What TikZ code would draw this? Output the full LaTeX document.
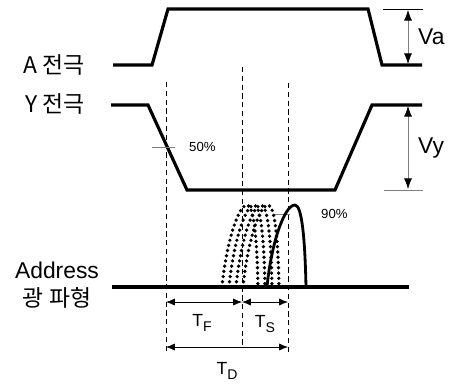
\documentclass[tikz,border=0pt]{standalone}
\usepackage{fontspec}
\setmainfont{Liberation Sans}
\newfontfamily\kr{Noto Sans CJK KR}
\usetikzlibrary{arrows.meta}
\tikzset{
  wave/.style={line width=1.8pt, line join=miter},
  guide/.style={thin, dash pattern=on 3pt off 2pt},
  mark50/.style={gray, thin},
  dimarrow/.style={thin, {Latex[length=5pt,width=4pt]}-{Latex[length=5pt,width=4pt]}},
  vdim/.style={gray, thin, {Latex[length=6pt,width=4.5pt,black]}-{Latex[length=6pt,width=4.5pt,black]}},
  dotpulse/.style={line width=2.1pt, line cap=round, dash pattern=on 0pt off 3pt},
  biglbl/.style={font=\fontsize{13}{15}\selectfont},
  smalllbl/.style={font=\fontsize{7.5}{9}\selectfont},
  tlbl/.style={font=\fontsize{10}{12}\selectfont}
}
\newcommand{\tsub}[1]{T\raisebox{-0.45ex}{\fontsize{8}{9}\selectfont #1}}
\begin{document}
\begin{tikzpicture}[x=0.02cm, y=-0.02cm]
    \useasboundingbox (0,0) rectangle (455,383);

    % Golfvormen van de elektroden
    \draw[wave] (113,65) -- (152,65) -- (168,9) -- (368,9) -- (382,65) -- (422,65);
    \draw[wave] (111,105) -- (148,105) -- (187,190) -- (335,190) -- (372,105) -- (422,105);
    \draw[wave] (112,287) -- (409,287);

    % Labels links
    \node[biglbl, anchor=east] (lblA) at (91,65) {\kr A 전극};
    \node[biglbl, anchor=east] (lblY) at (91,104) {\kr Y 전극};
    \node[biglbl] (lblAddr) at (57,270) {Address};
    \node[biglbl] (lblOpt) at (57,298) {\kr 광 파형};

    % Hulplijnen (gestreept)
    \draw[guide] (166,82) -- (166,353);
    \draw[guide] (242,67) -- (242,347);
    \draw[guide] (288,83) -- (288,355);

    % 50% en 90% markeringen
    \draw[mark50] (152,147) -- (175,147);
    \node[smalllbl, anchor=west] (lbl50) at (183,147) {50\%};
    \draw[mark50] (274,214) -- (290,214);
    \node[smalllbl, anchor=west] (lbl90) at (315,214) {90\%};

    % Va en Vy
    \draw[thin] (383,9) -- (423,9);
    \draw[thin, gray] (384,190) -- (423,190);
    \coordinate (vaTop) at (408,10);
    \coordinate (vaBot) at (408,64);
    \coordinate (vyTop) at (408,106);
    \coordinate (vyBot) at (408,189);
    \draw[vdim] (vaTop) -- (vaBot);
    \draw[vdim] (vyTop) -- (vyBot);
    \node[biglbl, anchor=west] (lblVa) at (412,37) {Va};
    \node[biglbl, anchor=west] (lblVy) at (412,148) {Vy};

    % Gestippelde pulsen
    \foreach \s in {222,229,236,243} {
        \draw[dotpulse] (\s,287) .. controls (\s+4,245) and (\s+16,205) .. (\s+25,205)
            .. controls (\s+32,205) and (\s+35,240) .. (\s+36,287);
    }
    % Doorgetrokken puls
    \draw[line width=1.6pt] (267,287) .. controls (271,245) and (284,205) .. (295,205)
        .. controls (302,205) and (305,240) .. (306,287);

    % Tijdsintervallen
    \coordinate (tfL) at (166,302);
    \coordinate (tfR) at (242,302);
    \coordinate (tsL) at (242,302);
    \coordinate (tsR) at (288,302);
    \coordinate (tdL) at (166,347);
    \coordinate (tdR) at (288,347);
    \draw[dimarrow] (tfL) -- (tfR);
    \draw[dimarrow] (tsL) -- (tsR);
    \draw[dimarrow] (tdL) -- (tdR);
    \node[tlbl] (lblTF) at (202,323) {\tsub{F}};
    \node[tlbl] (lblTS) at (265,324) {\tsub{S}};
    \node[tlbl] (lblTD) at (227,371) {\tsub{D}};
\end{tikzpicture}
\end{document}
